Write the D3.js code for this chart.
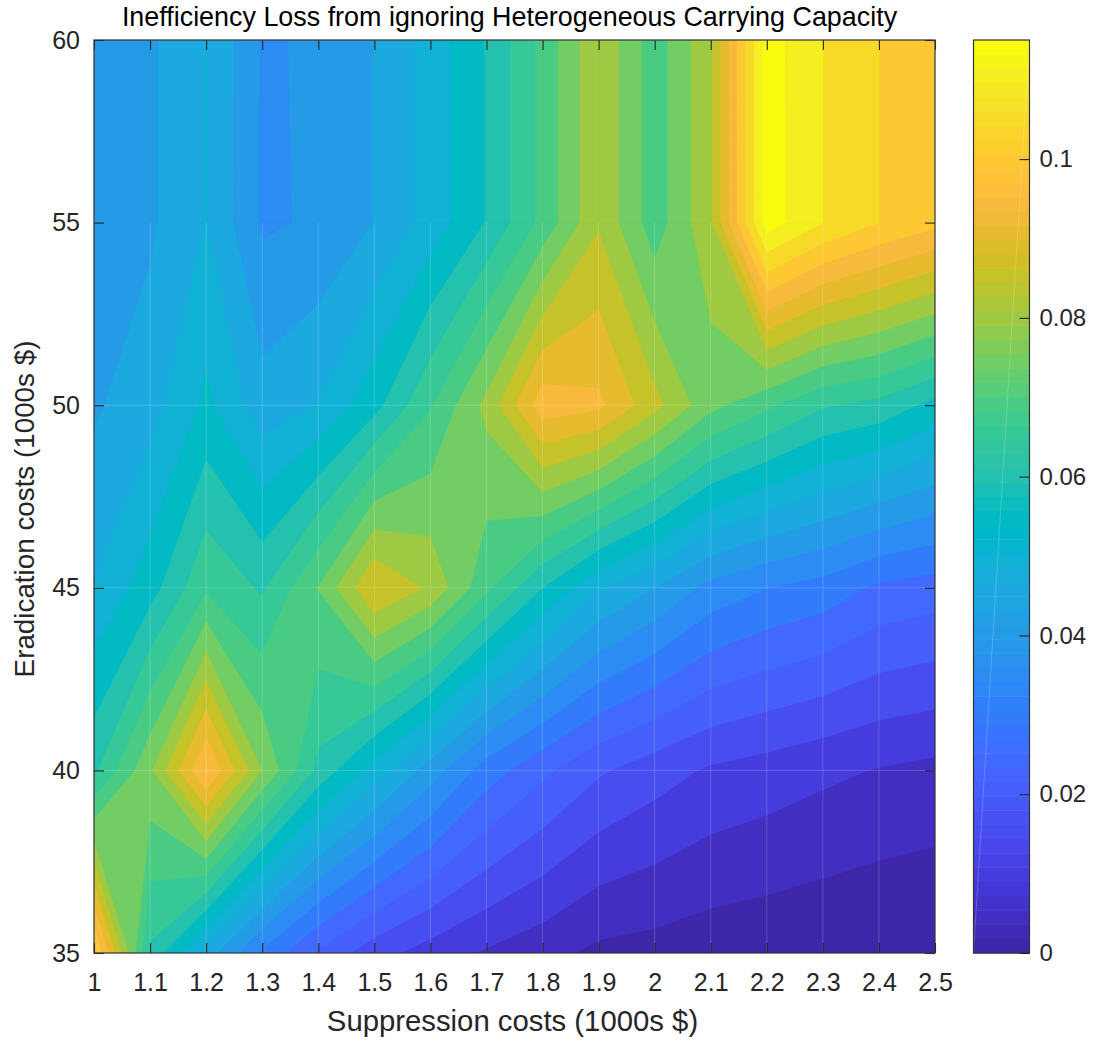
<!DOCTYPE html>
<html><head><meta charset="utf-8">
<script src="https://cdnjs.cloudflare.com/ajax/libs/d3/7.8.5/d3.min.js"></script>
<style>html,body{margin:0;padding:0;background:#fff}svg{display:block}
text{font-family:"Liberation Sans",Arial,sans-serif}
.axis path{display:none}.axis line{stroke:#262626;stroke-width:1.1}.axis text{fill:#262626;font-size:25px}</style>
</head><body><svg id="c" width="1093" height="1042"></svg>
<script>
const titleText="Inefficiency Loss from ignoring Heterogeneous Carrying Capacity";
const xLabel="Suppression costs (1000s $)";
const yLabel="Eradication costs (1000s $)";
const suppression=[1,1.1,1.2,1.3,1.4,1.5,1.6,1.7,1.8,1.9,2,2.1,2.2,2.3,2.4,2.5];
const eradication=[60,55,50,45,40,35];
const row60=[.0410,.0441,.0502,.0394,.0407,.0451,.0520,.0603,.0714,.0844,.0722,.0842,.1173,.1100,.1050,.1014];
const row55=[.0410,.0441,.0502,.0392,.0407,.0451,.0520,.0603,.0714,.0844,.0722,.0842,.1175,.1100,.1050,.1014];
const row50=[.0443,.0480,.0561,.0471,.0503,.0582,.0695,.0815,.0980,.0961,.0866,.0765,.0710,.0655,.0634,.0584];
const row45=[.0503,.0578,.0691,.0643,.0752,.0902,.0841,.0712,.0601,.0505,.0450,.0383,.0351,.0330,.0290,.0276];
const row40=[.0639,.0792,.1005,.0800,.0635,.0529,.0425,.0325,.0262,.0207,.0173,.0143,.0128,.0111,.0097,.0086];
const row35=[.1058,.0640,.0476,.0340,.0242,.0170,.0127,.0094,.0068,.0038,.0031,.0020,.0014,.0008,.0002,.0000];
const levels=[0,.005,.01,.015,.02,.025,.03,.035,.04,.045,.05,.055,.06,.065,.07,.075,.08,.085,.09,.095,.1,.105,.11,.115];
const colorbarTicks=[0,.02,.04,.06,.08,.1];
const yTicks=[35,40,45,50,55,60];
const parula=[[.2422,.1504,.6603],[.2504,.165,.7076],[.2578,.1818,.7511],[.2647,.1978,.7952],[.2706,.2147,.8364],[.2751,.2342,.871],[.2783,.2559,.8991],[.2803,.2782,.9221],[.2813,.3006,.9414],[.281,.3228,.9579],[.2795,.3447,.9717],[.276,.3667,.9829],[.2699,.3892,.9906],[.2602,.4123,.9952],[.244,.4358,.9988],[.2206,.4603,.9973],[.1963,.4847,.9892],[.1834,.5074,.9798],[.1786,.5289,.9682],[.1764,.5499,.952],[.1687,.5703,.9359],[.154,.5902,.9218],[.146,.6091,.9079],[.138,.6276,.8973],[.1248,.6459,.8883],[.1113,.6635,.8763],[.0952,.6798,.8598],[.0689,.6948,.8394],[.0297,.7082,.8163],[.0036,.7203,.7917],[.0067,.7312,.766],[.0433,.7411,.7394],[.0964,.75,.712],[.1408,.7584,.6842],[.1717,.767,.6554],[.1938,.7758,.6251],[.2161,.7843,.5923],[.247,.7918,.5567],[.2906,.7973,.5188],[.3406,.8008,.4789],[.3909,.8029,.4354],[.4456,.8024,.3909],[.5044,.7993,.348],[.5616,.7942,.3045],[.6174,.7876,.2612],[.672,.7793,.2227],[.7242,.7698,.191],[.7738,.7598,.1646],[.8203,.7498,.1535],[.8634,.7406,.1596],[.9035,.733,.1774],[.9393,.7288,.21],[.9728,.7298,.2394],[.9956,.7434,.2371],[.997,.7659,.2199],[.9952,.7861,.1996],[.9892,.8086,.1816],[.9786,.8304,.1663],[.9676,.8555,.1565],[.9619,.8807,.1537],[.9634,.9054,.1399],[.9626,.9315,.1262],[.9690,.9575,.0913],[.9763,.9831,.0538]];

const M={l:94,r:935,t:40,b:953};
const CB={l:973.5,r:1029.5};
const grid=[row60,row55,row50,row45,row40,row35];
const cMax=levels[levels.length-1];

const x=d3.scaleLinear().domain([1,2.5]).range([M.l,M.r]);
const y=d3.scaleLinear().domain([35,60]).range([M.b,M.t]);
const cbY=d3.scaleLinear().domain([0,cMax]).range([M.b,M.t]);
const rgb=c=>d3.rgb(c[0]*255,c[1]*255,c[2]*255).formatHex();
const colorOf=v=>rgb(parula[Math.max(0,Math.min(63,Math.floor(v/cMax*64+1e-9)))]);

// Region of the field at or above one level, cell by cell: corners at or above
// it plus linear crossings on the cell edges; a saddle cell is settled by the
// mean of its four corners.
function regionAbove(level){
  const polys=[];
  for(let j=0;j<eradication.length-1;j++)for(let i=0;i<suppression.length-1;i++){
    const cs=[[i,j],[i+1,j],[i+1,j+1],[i,j+1]].map(([a,b])=>({xv:suppression[a],yv:eradication[b],v:grid[b][a]}));
    const pts=[];
    cs.forEach((p,k)=>{
      const q=cs[(k+1)%4];
      if(p.v>=level)pts.push([p.xv,p.yv]);
      if((p.v>=level)!==(q.v>=level)){
        const t=(level-p.v)/(q.v-p.v);
        pts.push([d3.interpolateNumber(p.xv,q.xv)(t),d3.interpolateNumber(p.yv,q.yv)(t)]);
      }
    });
    if(pts.length===6 && d3.mean(cs,c=>c.v)<level){
      // two separate corners: walk starts at a high corner (0 or 1)
      const first=cs[0].v>=level;
      if(first){polys.push([pts[0],pts[1],pts[5]],[pts[2],pts[3],pts[4]]);}
      else{polys.push([pts[0],pts[1],pts[2]],[pts[3],pts[4],pts[5]]);}
    }else if(pts.length)polys.push(pts);
  }
  return polys;
}
const line=d3.line().x(d=>x(d[0])).y(d=>y(d[1]));

const svg=d3.select("#c");
svg.append("defs").append("clipPath").attr("id","plot").append("rect")
  .attr("x",M.l).attr("y",M.t).attr("width",M.r-M.l).attr("height",M.b-M.t);
const plot=svg.append("g").attr("clip-path","url(#plot)");
plot.selectAll("path").data(levels).join("path")
  .attr("d",l=>regionAbove(l).map(p=>line(p)+"Z").join(""))
  .attr("fill",l=>colorOf(l)).attr("stroke",l=>colorOf(l)).attr("stroke-width",0.5).attr("stroke-linejoin","round");

// faint seams of the original rendering
plot.selectAll("line.v").data(suppression.slice(1,-1)).join("line").attr("class","v")
  .attr("x1",d=>x(d)).attr("x2",d=>x(d)).attr("y1",y(55)).attr("y2",y(35))
  .attr("stroke","#fff").attr("stroke-opacity",.2).attr("stroke-width",1);
plot.selectAll("line.h").data([50,45,40]).join("line").attr("class","h")
  .attr("y1",d=>y(d)).attr("y2",d=>y(d)).attr("x1",M.l).attr("x2",M.r)
  .attr("stroke","#fff").attr("stroke-opacity",.2).attr("stroke-width",1);

const fmt=d=>String(+d.toFixed(2));
svg.append("g").attr("class","axis").attr("transform",`translate(0,${M.b})`)
  .call(d3.axisBottom(x).tickValues(suppression).tickFormat(fmt).tickSizeInner(-10).tickSizeOuter(0).tickPadding(20));
svg.append("g").attr("class","axis").attr("transform",`translate(0,${M.t})`)
  .call(d3.axisTop(x).tickValues(suppression).tickFormat("").tickSizeInner(-10).tickSizeOuter(0));
svg.append("g").attr("class","axis").attr("transform",`translate(${M.l},0)`)
  .call(d3.axisLeft(y).tickValues(yTicks).tickFormat(d3.format("d")).tickSizeInner(-10).tickSizeOuter(0).tickPadding(14));
svg.append("g").attr("class","axis").attr("transform",`translate(${M.r},0)`)
  .call(d3.axisRight(y).tickValues(yTicks).tickFormat("").tickSizeInner(-10).tickSizeOuter(0));
svg.append("rect").attr("x",M.l).attr("y",M.t).attr("width",M.r-M.l).attr("height",M.b-M.t)
  .attr("fill","none").attr("stroke","#333").attr("stroke-width",1.2);

// colorbar
const cbStep=d3.range(64);
const cbBand=cMax/64;
svg.append("g").selectAll("rect").data(cbStep).join("rect")
  .attr("x",CB.l).attr("width",CB.r-CB.l)
  .attr("y",i=>cbY((i+1)*cbBand)).attr("height",i=>cbY(i*cbBand)-cbY((i+1)*cbBand)+0.5)
  .attr("fill",i=>rgb(parula[i]));
svg.append("line").attr("x1",CB.l).attr("y1",M.b).attr("x2",CB.r).attr("y2",M.t)
  .attr("stroke","#fff").attr("stroke-opacity",.2);
svg.append("rect").attr("x",CB.l).attr("y",M.t).attr("width",CB.r-CB.l).attr("height",M.b-M.t)
  .attr("fill","none").attr("stroke","#333").attr("stroke-width",1.2);
svg.append("g").attr("class","axis").attr("transform",`translate(${CB.r},0)`)
  .call(d3.axisRight(cbY).tickValues(colorbarTicks).tickFormat(fmt).tickSizeInner(-10).tickSizeOuter(0).tickPadding(10))
  .selectAll("text").style("font-size","24px");

svg.append("text").attr("x",509.5).attr("y",26).attr("text-anchor","middle")
  .attr("font-size",26.9).attr("fill","#000").text(titleText);
svg.append("text").attr("x",512.5).attr("y",1031).attr("text-anchor","middle")
  .attr("font-size",29.3).attr("fill","#262626").text(xLabel);
svg.append("text").attr("transform",`translate(34,509) rotate(-90)`).attr("text-anchor","middle")
  .attr("font-size",27.8).attr("fill","#262626").text(yLabel);
</script></body></html>
